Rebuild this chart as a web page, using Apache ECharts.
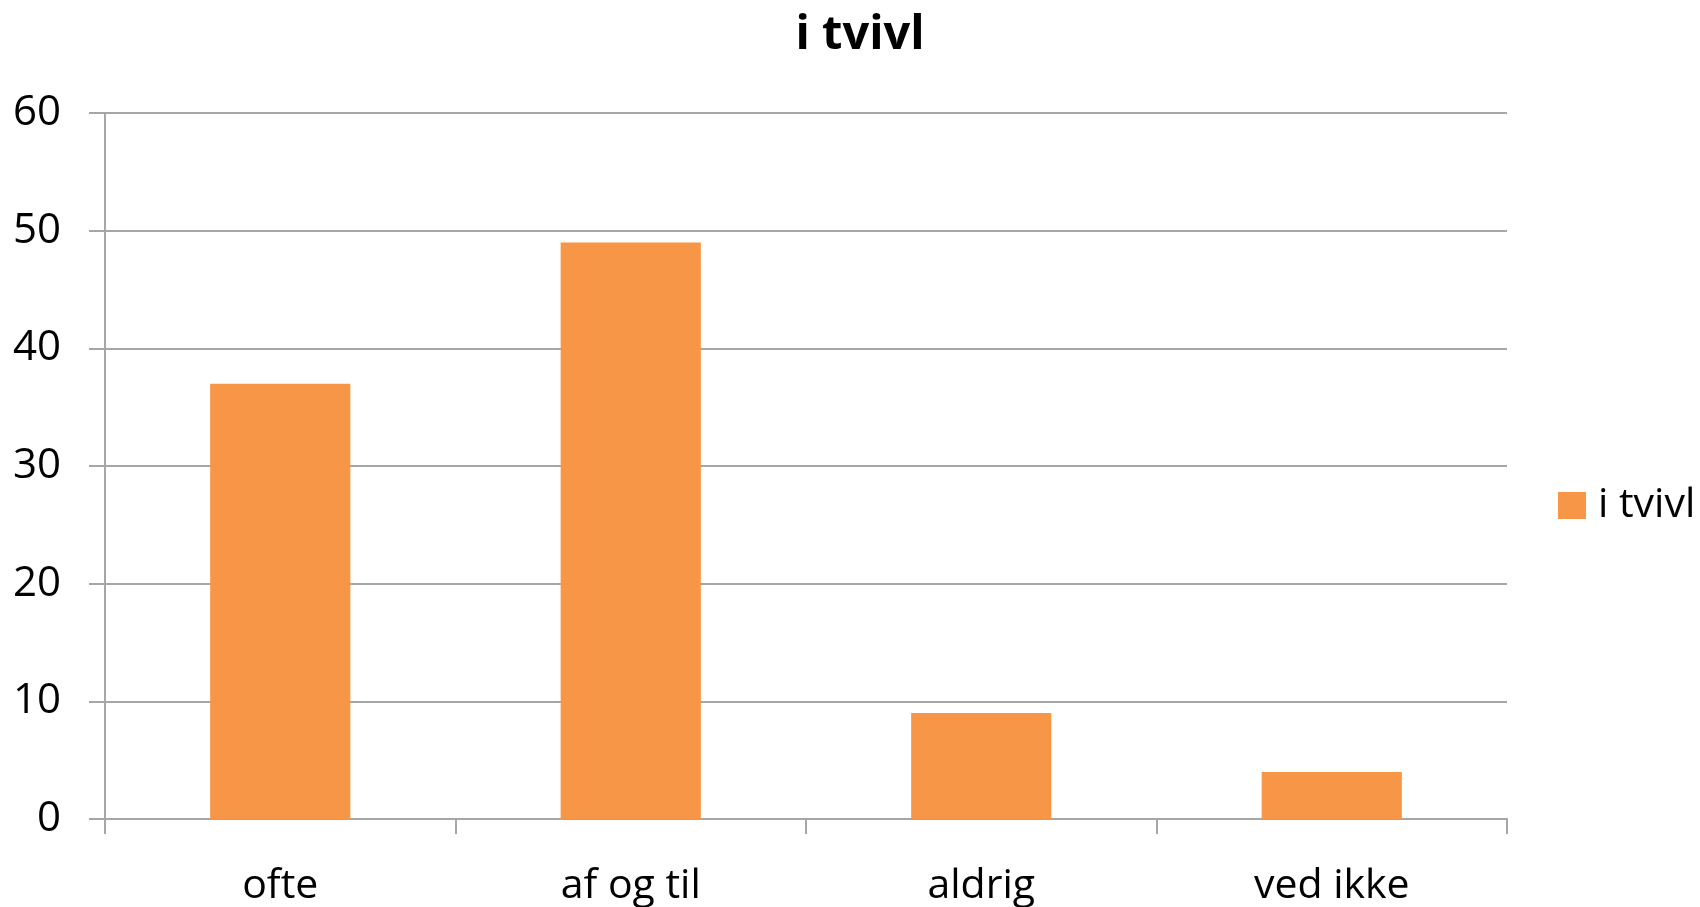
<!DOCTYPE html>
<html>
<head>
<meta charset="utf-8">
<script src="https://cdn.jsdelivr.net/npm/echarts@6/dist/echarts.min.js"></script>
<style>html,body{margin:0;padding:0;background:#fff}#c{width:1700px;height:907px}</style>
</head>
<body>
<div id="c"></div>
<script>
var titleText = 'i tvivl';
var categories = ['ofte', 'af og til', 'aldrig', 'ved ikke'];
var seriesName = 'i tvivl';
var values = [37, 49, 9, 4];
var yTicks = [0, 10, 20, 30, 40, 50, 60];

var chart = echarts.init(document.getElementById('c'));
var font = 'Open Sans';
chart.setOption({
  animation: false,
  title: {
    text: titleText,
    left: 855,
    textAlign: 'center',
    top: 7,
    textStyle: { fontFamily: font, fontSize: 47, fontWeight: 'bold', color: '#000' }
  },
  legend: {
    data: [seriesName],
    left: 1553,
    top: 480,
    icon: 'rect',
    itemWidth: 28,
    itemHeight: 27,
    textStyle: { fontFamily: font, fontSize: 41, color: '#000', padding: [0, 0, 0, 7] }
  },
  grid: { left: 105, right: 193, top: 113, bottom: 87, containLabel: false },
  xAxis: {
    type: 'category',
    data: categories,
    boundaryGap: true,
    axisLine: { show: true, lineStyle: { color: '#A6A6A6', width: 2 } },
    axisTick: { show: true, length: 15, alignWithLabel: false, lineStyle: { color: '#A6A6A6', width: 2 } },
    axisLabel: { fontFamily: font, fontSize: 41, color: '#000', margin: 47 },
    splitLine: { show: false }
  },
  yAxis: {
    type: 'value',
    min: yTicks[0],
    max: yTicks[yTicks.length - 1],
    interval: yTicks[1] - yTicks[0],
    axisLine: { show: true, lineStyle: { color: '#A6A6A6', width: 2 } },
    axisTick: { show: true, length: 16, lineStyle: { color: '#A6A6A6', width: 2 } },
    axisLabel: { fontFamily: font, fontSize: 42, color: '#000', margin: 44 },
    splitLine: { show: true, lineStyle: { color: '#A6A6A6', width: 2 } }
  },
  series: [{
    name: seriesName,
    type: 'bar',
    data: values,
    barWidth: '40%',
    itemStyle: { color: '#F79646' }
  }]
});
</script>
</body>
</html>
